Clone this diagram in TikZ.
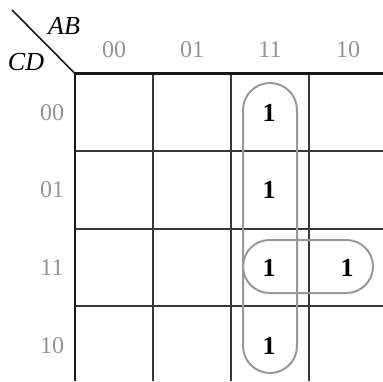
\documentclass[tikz,border=0pt]{standalone}
\usepackage{fontspec}
\setmainfont{Liberation Serif}
\begin{document}
\begin{tikzpicture}[x=1pt,y=-1pt,
  gridline/.style={draw=black!78,line width=1.5pt},
  border/.style={draw=black!90,line width=2.2pt},
  loopline/.style={draw=black!40,line width=2pt},
  lbl/.style={text=black!42,font=\fontsize{24}{24}\selectfont,inner sep=0pt},
  one/.style={font=\fontsize{26}{26}\selectfont\bfseries,inner sep=0pt},
  var/.style={font=\fontsize{26}{26}\selectfont\itshape,inner sep=0pt}]
\useasboundingbox (0,0) rectangle (383,381);
\fill[white] (0,0) rectangle (383,381);
% interior grid lines
\foreach \x in {153,231,309} \draw[gridline] (\x,73.5) -- (\x,381);
\foreach \y in {151,229,306} \draw[gridline] (75,\y) -- (383,\y);
% borders
\draw[border] (75,381) -- (75,73.5) -- (383,73.5);
\draw[border,line width=1.6pt] (12,10) -- (75,73.5);
% variable labels
\node[var] (ab) at (64,26) {AB};
\node[var] (cd) at (26,62) {CD};
% column headers
\node[lbl] (c00) at (114,50) {00};
\node[lbl] (c01) at (192,50) {01};
\node[lbl] (c11) at (270,50) {11};
\node[lbl] (c10) at (348,50) {10};
% row headers
\node[lbl] (r00) at (52,113) {00};
\node[lbl] (r01) at (52,190) {01};
\node[lbl] (r11) at (52,268) {11};
\node[lbl] (r10) at (52,346) {10};
% ones
\node[one] (m12) at (269,113) {1};
\node[one] (m13) at (269,190) {1};
\node[one] (m15) at (269,268) {1};
\node[one] (m14) at (269,346) {1};
\node[one] (m11) at (347,268) {1};
% loops
\draw[loopline,rounded corners=27pt] (243,83) rectangle (297,373);
\draw[loopline,rounded corners=26.5pt] (243,240) rectangle (373,293);
\end{tikzpicture}
\end{document}
